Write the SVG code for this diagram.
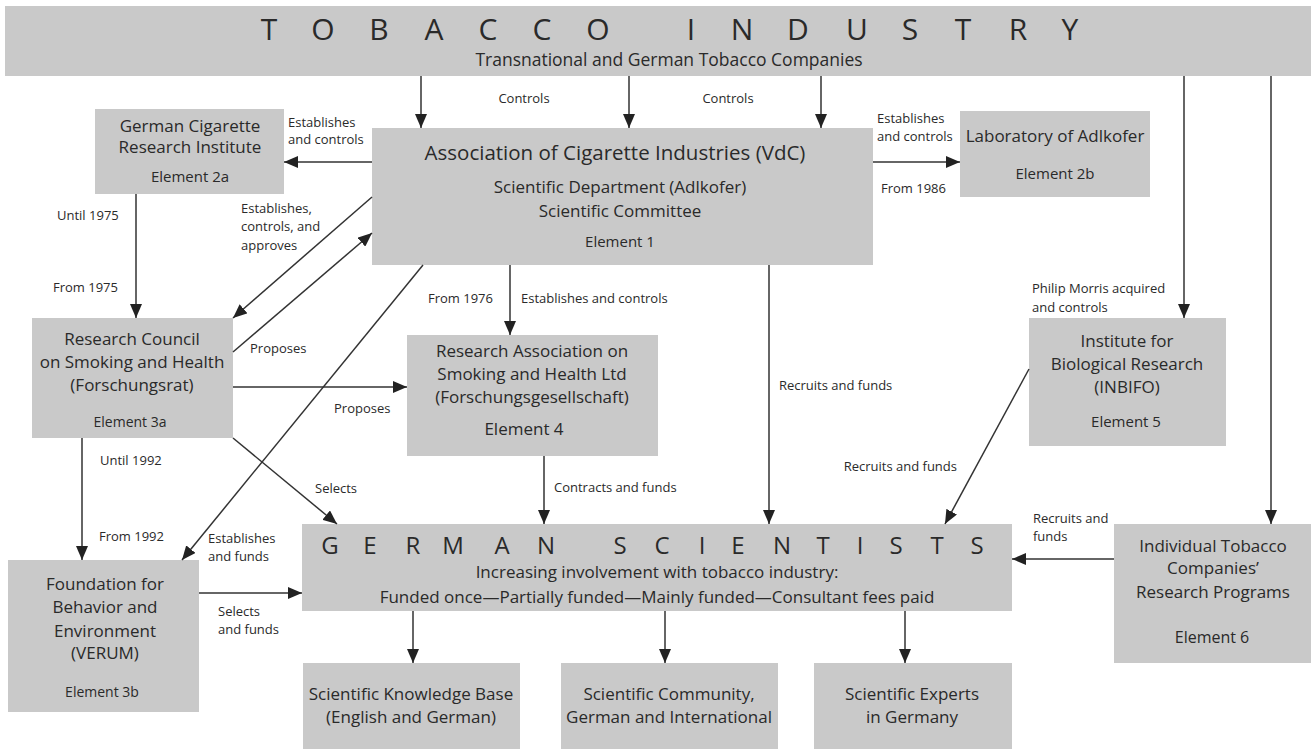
<svg xmlns="http://www.w3.org/2000/svg" width="1311" height="749" viewBox="0 0 1311 749">
<style>
  .box { fill: #c9c9c9; }
  text { font-family: "Open Sans", "Liberation Sans", sans-serif; fill: #2a2a2a; }
  .t { font-size: 17px; text-anchor: middle; }
  .el { font-size: 15px; text-anchor: middle; }
  .lbl { font-size: 13px; }
  .big { font-size: 30px; text-anchor: middle; }
  .mid { font-size: 24px; text-anchor: middle; }
  .conn line { stroke: #333; stroke-width: 1.5; marker-end: url(#ah); }
</style>
<defs>
  <marker id="ah" markerUnits="userSpaceOnUse" markerWidth="14" markerHeight="12" refX="14" refY="6" orient="auto">
    <path d="M0,0 L14,6 L0,12 z" fill="#222"/>
  </marker>
</defs>
<rect width="1311" height="749" fill="#fff"/>

<g id="tobacco-industry">
  <rect class="box" x="5" y="6" width="1306" height="70"/>
  <text class="big" x="269 323 379 434 488 542 598 691 742 798 857 910 963 1018 1070" y="40">TOBACCOINDUSTRY</text>
  <text class="t" x="669" y="66" style="font-size:17.5px">Transnational and German Tobacco Companies</text>
</g>

<g id="vdc">
  <rect class="box" x="372" y="128" width="501" height="137"/>
  <text class="t" x="615" y="160" style="font-size:20.5px">Association of Cigarette Industries (VdC)</text>
  <text class="t" x="620" y="193">Scientific Department (Adlkofer)</text>
  <text class="t" x="620" y="217">Scientific Committee</text>
  <text class="el" x="620" y="247">Element 1</text>
</g>

<g id="gcri">
  <rect class="box" x="95" y="109" width="189" height="85"/>
  <text class="t" x="190" y="132">German Cigarette</text>
  <text class="t" x="190" y="153">Research Institute</text>
  <text class="el" x="190" y="182">Element 2a</text>
</g>

<g id="lab">
  <rect class="box" x="960" y="111" width="190" height="86"/>
  <text class="t" x="1055" y="142">Laboratory of Adlkofer</text>
  <text class="el" x="1055" y="179">Element 2b</text>
</g>

<g id="council">
  <rect class="box" x="32" y="318" width="201" height="120"/>
  <text class="t" x="132" y="345">Research Council</text>
  <text class="t" x="132" y="368">on Smoking and Health</text>
  <text class="t" x="132" y="391">(Forschungsrat)</text>
  <text class="el" x="130" y="427" style="font-size:14px">Element 3a</text>
</g>

<g id="research-association">
  <rect class="box" x="407" y="335" width="251" height="121"/>
  <text class="t" x="532" y="357">Research Association on</text>
  <text class="t" x="532" y="380">Smoking and Health Ltd</text>
  <text class="t" x="532" y="403">(Forschungsgesellschaft)</text>
  <text class="t" x="524" y="435">Element 4</text>
</g>

<g id="inbifo">
  <rect class="box" x="1029" y="318" width="197" height="128"/>
  <text class="t" x="1127" y="347">Institute for</text>
  <text class="t" x="1127" y="370">Biological Research</text>
  <text class="t" x="1127" y="393">(INBIFO)</text>
  <text class="el" x="1126" y="427">Element 5</text>
</g>

<g id="foundation">
  <rect class="box" x="8" y="560" width="191" height="152"/>
  <text class="t" x="105" y="590">Foundation for</text>
  <text class="t" x="105" y="613">Behavior and</text>
  <text class="t" x="105" y="637">Environment</text>
  <text class="t" x="105" y="659">(VERUM)</text>
  <text class="el" x="102" y="697" style="font-size:14px">Element 3b</text>
</g>

<g id="german-scientists">
  <rect class="box" x="302" y="524" width="710" height="87"/>
  <text class="mid" x="330 370 413 453 502 546 620 662 702 738 782 823 860 896 937 977" y="554">GERMANSCIENTISTS</text>
  <text class="t" x="657" y="578">Increasing involvement with tobacco industry:</text>
  <text class="t" x="657" y="603">Funded once—Partially funded—Mainly funded—Consultant fees paid</text>
</g>

<g id="individual">
  <rect class="box" x="1114" y="524" width="197" height="139"/>
  <text class="t" x="1213" y="552">Individual Tobacco</text>
  <text class="t" x="1213" y="574">Companies’</text>
  <text class="t" x="1213" y="598">Research Programs</text>
  <text class="el" x="1212" y="643" style="font-size:16px">Element 6</text>
</g>

<g id="knowledge-base">
  <rect class="box" x="303" y="663" width="217" height="86"/>
  <text class="t" x="411" y="700">Scientific Knowledge Base</text>
  <text class="t" x="411" y="723">(English and German)</text>
</g>

<g id="community">
  <rect class="box" x="561" y="663" width="217" height="86"/>
  <text class="t" x="669" y="700">Scientific Community,</text>
  <text class="t" x="669" y="723">German and International</text>
</g>

<g id="experts">
  <rect class="box" x="814" y="663" width="198" height="86"/>
  <text class="t" x="912" y="700">Scientific Experts</text>
  <text class="t" x="912" y="723">in Germany</text>
</g>

<g id="connectors" class="conn">
  <line x1="421" y1="76" x2="421" y2="128"/>
  <line x1="629" y1="76" x2="629" y2="128"/>
  <line x1="821" y1="76" x2="821" y2="128"/>
  <line x1="1184" y1="76" x2="1184" y2="318"/>
  <line x1="1271" y1="76" x2="1271" y2="524"/>
  <line x1="372" y1="162" x2="284" y2="162"/>
  <line x1="873" y1="162" x2="960" y2="162"/>
  <line x1="136" y1="194" x2="136" y2="318"/>
  <line x1="372" y1="197" x2="233" y2="318"/>
  <line x1="233" y1="352" x2="372" y2="233"/>
  <line x1="510" y1="265" x2="510" y2="335"/>
  <line x1="233" y1="387" x2="407" y2="387"/>
  <line x1="544" y1="456" x2="544" y2="524"/>
  <line x1="769" y1="265" x2="769" y2="524"/>
  <line x1="233" y1="438" x2="337" y2="524"/>
  <line x1="423" y1="265" x2="182" y2="560"/>
  <line x1="82" y1="438" x2="82" y2="560"/>
  <line x1="199" y1="593" x2="302" y2="593"/>
  <line x1="1029" y1="369" x2="945" y2="524"/>
  <line x1="1114" y1="559" x2="1012" y2="559"/>
  <line x1="413" y1="611" x2="413" y2="663"/>
  <line x1="665" y1="611" x2="665" y2="663"/>
  <line x1="905" y1="611" x2="905" y2="663"/>
</g>

<g id="labels" class="lbl">
  <text x="524" y="103" text-anchor="middle">Controls</text>
  <text x="728" y="103" text-anchor="middle">Controls</text>
  <text x="288" y="127">Establishes</text>
  <text x="288" y="144">and controls</text>
  <text x="877" y="123">Establishes</text>
  <text x="877" y="141">and controls</text>
  <text x="881" y="193">From 1986</text>
  <text x="57" y="220">Until 1975</text>
  <text x="53" y="292">From 1975</text>
  <text x="241" y="213">Establishes,</text>
  <text x="241" y="231">controls, and</text>
  <text x="241" y="250">approves</text>
  <text x="250" y="353">Proposes</text>
  <text x="334" y="413">Proposes</text>
  <text x="428" y="303">From 1976</text>
  <text x="521" y="303">Establishes and controls</text>
  <text x="779" y="390">Recruits and funds</text>
  <text x="1032" y="293">Philip Morris acquired</text>
  <text x="1032" y="312">and controls</text>
  <text x="554" y="492">Contracts and funds</text>
  <text x="957" y="471" text-anchor="end">Recruits and funds</text>
  <text x="100" y="465">Until 1992</text>
  <text x="99" y="541">From 1992</text>
  <text x="315" y="493">Selects</text>
  <text x="208" y="543">Establishes</text>
  <text x="208" y="561">and funds</text>
  <text x="218" y="616">Selects</text>
  <text x="218" y="634">and funds</text>
  <text x="1033" y="523">Recruits and</text>
  <text x="1033" y="541">funds</text>
</g>
</svg>
